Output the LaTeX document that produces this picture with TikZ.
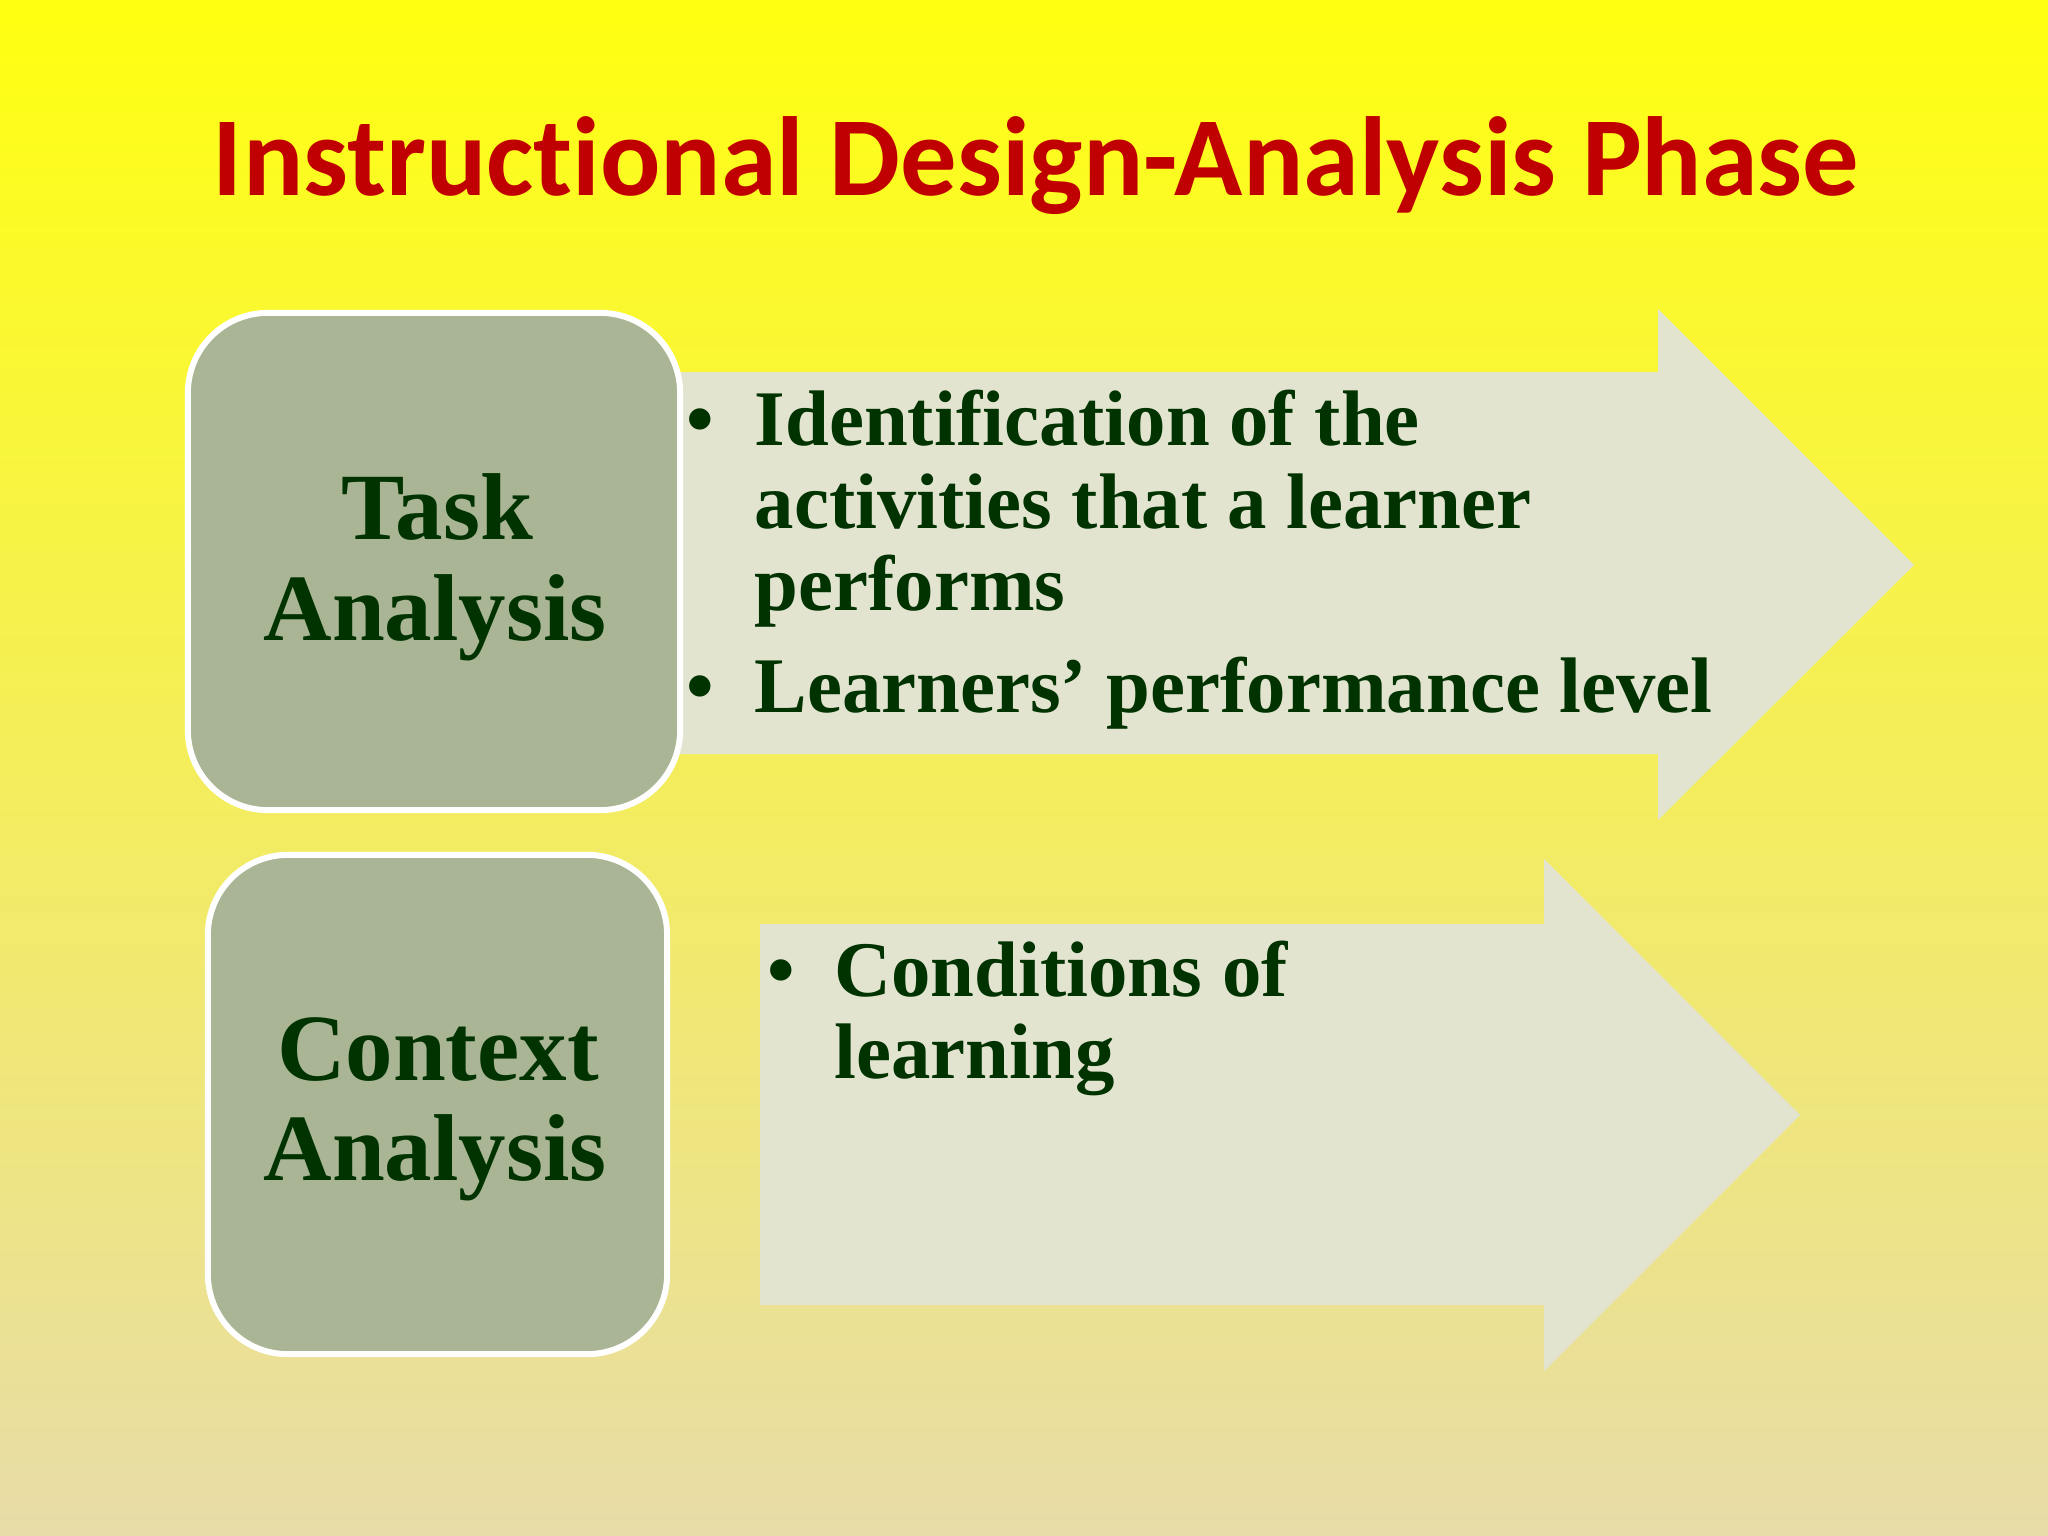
\documentclass[tikz,border=0pt]{standalone}
\usepackage{fontspec}
\setmainfont{Liberation Serif}
\newfontfamily\titlefont[Ligatures=NoCommon]{Carlito}
\definecolor{bgtop}{HTML}{FFFF10}
\definecolor{bgmid}{HTML}{F3EE80}
\definecolor{bgbot}{HTML}{E8DCA8}
\definecolor{titlered}{HTML}{C00000}
\definecolor{boxfill}{HTML}{A9B595}
\definecolor{arrowfill}{HTML}{E2E4D0}
\definecolor{darkgreen}{HTML}{003300}
\tikzset{
  box/.style={draw=white, line width=0.06cm, fill=boxfill, rounded corners=0.8cm, rectangle, inner sep=0pt},
  boxlabel/.style={anchor=base, inner sep=0pt, text=darkgreen, font=\bfseries\fontsize{27}{29}\selectfont},
  bodytext/.style={anchor=base west, inner sep=0pt, text=darkgreen, font=\bfseries\fontsize{22.4}{23.4}\selectfont},
  bulletmark/.style={anchor=base, inner sep=0pt, text=darkgreen, font=\bfseries\fontsize{22.4}{23.4}\selectfont},
  arrowshape/.style={fill=arrowfill}
}
\begin{document}
\begin{tikzpicture}[x=0.01cm,y=-0.01cm]
\useasboundingbox (0,0) rectangle (2048,1536);
\shade[top color=bgtop, middle color=bgmid, bottom color=bgbot] (0,0) rectangle (2048,1536);

% title
\node (title) [anchor=base, inner sep=0pt, text=titlered, font=\titlefont\bfseries\fontsize{32}{36}\selectfont] at (1036,195) {Instructional Design-Analysis Phase};

% arrows
\coordinate (a1s) at (640,372);
\path[arrowshape] (a1s) -- (1658,372) -- (1658,309) -- (1914,565) -- (1658,820) -- (1658,754) -- (640,754) -- cycle;
\coordinate (a2s) at (760,924);
\path[arrowshape] (a2s) -- (1544,924) -- (1544,859) -- (1800,1115) -- (1544,1371) -- (1544,1305) -- (760,1305) -- cycle;

% boxes
\node (task) [box, minimum width=4.92cm, minimum height=4.97cm] at (434,561.5) {};
\node (context) [box, minimum width=4.59cm, minimum height=4.99cm] at (437.5,1104.5) {};

\node (taskA) [boxlabel] at (437,539) {Task};
\node (taskB) [boxlabel] at (435,640) {Analysis};
\node (ctxA) [boxlabel] at (438,1080) {Context};
\node (ctxB) [boxlabel] at (435,1180) {Analysis};

% bullets arrow 1
\node (b1) [bulletmark] at (700,445) {•};
\node (t1a) [bodytext] at (754,445) {Identification of the};
\node (t1b) [bodytext] at (754,528) {activities that a learner};
\node (t1c) [bodytext] at (754,610) {performs};
\node (b2) [bulletmark] at (700,712) {•};
\node (t2a) [bodytext] at (754,712) {Learners’ performance level};

% bullets arrow 2
\node (b3) [bulletmark] at (781,996) {•};
\node (t3a) [bodytext] at (834,996) {Conditions of};
\node (t3b) [bodytext] at (834,1078) {learning};
\end{tikzpicture}
\end{document}
